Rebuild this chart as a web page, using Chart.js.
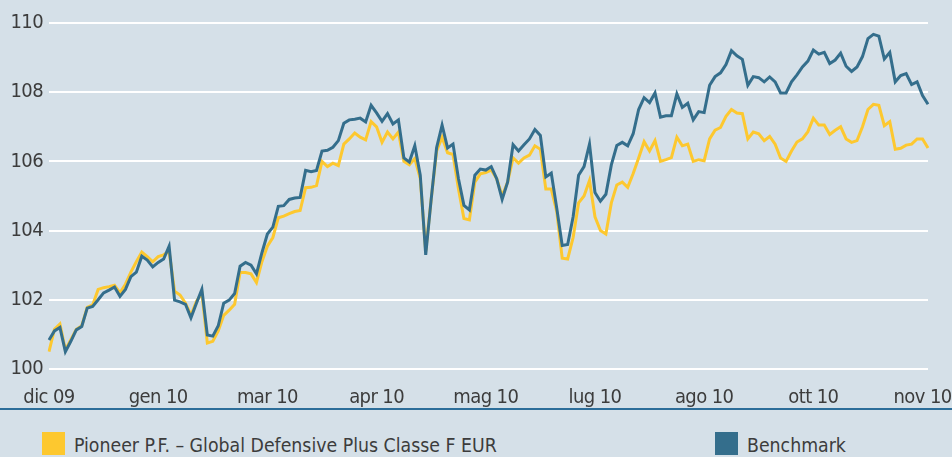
<!DOCTYPE html>
<html>
<head>
<meta charset="utf-8">
<script src="https://cdn.jsdelivr.net/npm/chart.js@4.4.0/dist/chart.umd.min.js"></script>
<style>
  html, body { margin: 0; padding: 0; background: #d5e0e8; }
  #wrap { position: relative; width: 952px; height: 457px; overflow: hidden;
          font-family: 'DejaVu Sans Condensed', 'Liberation Sans', sans-serif; }
  #chartBox { position: absolute; left: 0; top: 0; width: 952px; height: 408px; }
  #rule { position: absolute; left: 0; top: 408px; width: 952px; height: 2px; background: #2c6d99; }
  .legend-item { position: absolute; top: 432px; display: flex; align-items: center; height: 23px; }
  .legend-item .sw { width: 23px; height: 23px; margin-right: 9px; flex: none; }
  .legend-item .txt { font-size: 20px; color: #3c3c3c; white-space: nowrap; line-height: 23px;
                      margin-top: 3px; transform: scaleX(0.965); transform-origin: left center; }
</style>
</head>
<body>
<div id="wrap">
  <div id="chartBox"><canvas id="perfChart"></canvas></div>
  <div id="rule"></div>
  <div class="legend-item" style="left:42px;"><div class="sw" style="background:#fdc82f"></div><div class="txt">Pioneer P.F. – Global Defensive Plus Classe F EUR</div></div>
  <div class="legend-item" style="left:715px;"><div class="sw" style="background:#346e8c"></div><div class="txt">Benchmark</div></div>
</div>
<script>
// month labels shown every 20 points on the x axis
const monthTicks = ['dic 09', 'gen 10', 'mar 10', 'apr 10', 'mag 10', 'lug 10', 'ago 10', 'ott 10', 'nov 10'];
const tickEvery = 20;

// fund (yellow)
const fundValues = [
  100.50, 101.15, 101.30, 100.55, 100.85, 101.15, 101.25, 101.78, 101.85, 102.30,
  102.35, 102.38, 102.42, 102.20, 102.45, 102.80, 103.10, 103.38, 103.25, 103.10,
  103.25, 103.30, 103.40, 102.25, 102.14, 101.90, 101.55, 101.95, 102.20, 100.75,
  100.80, 101.10, 101.55, 101.70, 101.87, 102.79, 102.79, 102.75, 102.50, 103.10,
  103.55, 103.80, 104.37, 104.42, 104.49, 104.55, 104.58, 105.24, 105.25, 105.30,
  106.00, 105.85, 105.95, 105.88, 106.50, 106.65, 106.82, 106.70, 106.62, 107.15,
  107.00, 106.55, 106.85, 106.65, 106.85, 106.00, 105.90, 106.08, 105.50, 103.40,
  104.90, 106.30, 106.70, 106.25, 106.20, 105.20, 104.35, 104.31, 105.40, 105.64,
  105.68, 105.75, 105.50, 105.00, 105.40, 106.10, 105.95, 106.10, 106.18, 106.45,
  106.35, 105.20, 105.20, 104.55, 103.20, 103.18, 103.80, 104.80, 105.00, 105.45,
  104.40, 104.00, 103.90, 104.80, 105.32, 105.40, 105.25, 105.65, 106.10, 106.57,
  106.30, 106.60, 106.00, 106.05, 106.11, 106.70, 106.45, 106.50, 106.00, 106.05,
  106.02, 106.65, 106.90, 106.98, 107.30, 107.50, 107.40, 107.38, 106.65, 106.85,
  106.80, 106.60, 106.72, 106.50, 106.10, 106.00, 106.30, 106.56, 106.65, 106.86,
  107.25, 107.05, 107.05, 106.78, 106.90, 107.00, 106.65, 106.55, 106.60, 107.00,
  107.50, 107.65, 107.62, 107.03, 107.15, 106.35, 106.38, 106.47, 106.50, 106.65,
  106.65, 106.39
];

// benchmark (blue)
const benchValues = [
  100.84, 101.10, 101.20, 100.50, 100.80, 101.13, 101.23, 101.76, 101.81, 102.00,
  102.20, 102.28, 102.37, 102.10, 102.30, 102.67, 102.80, 103.26, 103.15, 102.95,
  103.08, 103.18, 103.55, 101.99, 101.94, 101.87, 101.48, 101.90, 102.30, 100.98,
  100.95, 101.25, 101.90, 101.99, 102.18, 102.97, 103.08, 103.00, 102.75, 103.36,
  103.90, 104.10, 104.70, 104.72, 104.90, 104.94, 104.96, 105.74, 105.70, 105.74,
  106.30, 106.32, 106.41, 106.60, 107.10, 107.20, 107.22, 107.25, 107.14, 107.62,
  107.40, 107.16, 107.38, 107.08, 107.20, 106.10, 105.98, 106.45, 105.60, 103.30,
  104.90, 106.40, 107.05, 106.39, 106.50, 105.50, 104.73, 104.60, 105.60, 105.78,
  105.75, 105.85, 105.50, 104.90, 105.40, 106.48, 106.30, 106.48, 106.65, 106.92,
  106.75, 105.55, 105.66, 104.65, 103.57, 103.60, 104.40, 105.60, 105.85, 106.50,
  105.10, 104.85, 105.05, 105.90, 106.46, 106.55, 106.45, 106.80, 107.50, 107.84,
  107.70, 107.98, 107.28, 107.32, 107.32, 107.95, 107.56, 107.68, 107.20, 107.44,
  107.41, 108.20, 108.45, 108.56, 108.80, 109.20, 109.05, 108.95, 108.20, 108.45,
  108.42, 108.30, 108.44, 108.30, 107.98, 107.98, 108.30, 108.50, 108.73, 108.90,
  109.22, 109.10, 109.15, 108.83, 108.93, 109.13, 108.75, 108.60, 108.73, 109.03,
  109.55, 109.67, 109.62, 108.96, 109.15, 108.30, 108.48, 108.54, 108.22, 108.30,
  107.90, 107.65
];

const dayIndex = benchValues.map((v, i) => i);

const fontFamily = "'DejaVu Sans Condensed', 'Liberation Sans', sans-serif";

// tick text is still a bit wide, tighten it slightly
const tightText = {
  id: 'tightText',
  beforeLayout(chart) { chart.ctx.letterSpacing = '-0.6px'; },
  beforeDraw(chart) { chart.ctx.letterSpacing = '-0.6px'; }
};

const perfChart = new Chart(document.getElementById('perfChart'), {
  type: 'line',
  data: {
    labels: dayIndex,
    datasets: [
      {
        label: 'Benchmark',
        data: benchValues,
        borderColor: '#346e8c',
        borderWidth: 3,
        pointRadius: 0,
        tension: 0,
        order: 0
      },
      {
        label: 'Pioneer P.F. – Global Defensive Plus Classe F EUR',
        data: fundValues,
        borderColor: '#fdc82f',
        borderWidth: 3,
        pointRadius: 0,
        tension: 0,
        order: 1
      }
    ]
  },
  options: {
    responsive: true,
    maintainAspectRatio: false,
    animation: false,
    layout: { padding: { left: 0, right: 24, top: 23, bottom: 0 } },
    plugins: {
      legend: { display: false },
      tooltip: { enabled: false }
    },
    scales: {
      x: {
        type: 'category',
        offset: false,
        grid: { display: false },
        border: { display: false },
        ticks: {
          autoSkip: false,
          maxRotation: 0,
          padding: 9,
          color: '#3c3c3c',
          font: { family: fontFamily, size: 20 },
          callback: function (val, idx) {
            return idx % tickEvery === 0 ? monthTicks[idx / tickEvery] : null;
          }
        },
        afterFit: function (scale) {
          scale.paddingLeft = 0;
          scale.paddingRight = 0;
          scale.height = 39;
        }
      },
      y: {
        min: 100,
        max: 110,
        grid: { color: '#ffffff', lineWidth: 2, drawTicks: false },
        border: { display: false },
        ticks: {
          stepSize: 2,
          padding: 6,
          color: '#3c3c3c',
          font: { family: fontFamily, size: 20 }
        },
        afterFit: function (scale) {
          scale.width = 49;
          scale.paddingTop = 0;
          scale.paddingBottom = 0;
        }
      }
    }
  },
  plugins: [tightText]
});
</script>
</body>
</html>
